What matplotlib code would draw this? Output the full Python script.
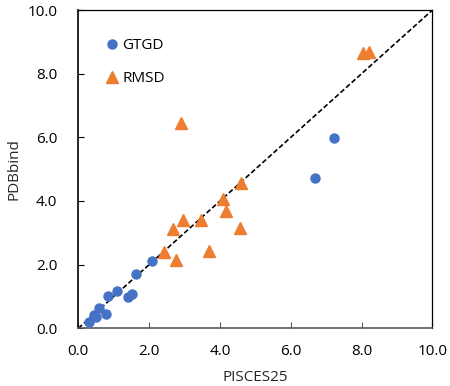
import matplotlib
matplotlib.use("Agg")
import matplotlib.pyplot as plt
from matplotlib.ticker import FormatStrFormatter

# GTGD series
gtgd_x = [0.30, 0.44, 0.50, 0.59, 0.78, 0.85, 1.10, 1.41, 1.53, 1.62, 2.09, 6.69, 7.22]
gtgd_y = [0.19, 0.42, 0.36, 0.63, 0.45, 1.02, 1.18, 0.98, 1.08, 1.72, 2.11, 4.71, 5.98]

# RMSD series
rmsd_x = [2.42, 2.66, 2.75, 2.90, 2.96, 3.47, 3.70, 4.09, 4.17, 4.57, 4.59, 8.05, 8.20]
rmsd_y = [2.39, 3.12, 2.15, 6.44, 3.40, 3.40, 2.44, 4.07, 3.70, 3.16, 4.55, 8.64, 8.69]

ticks = [0, 2, 4, 6, 8, 10]

plt.rcParams['font.family'] = ['Open Sans', 'DejaVu Sans']

fig = plt.figure(figsize=(4.5, 3.86), dpi=100)
ax = fig.add_axes([0.174, 0.1495, 0.787, 0.8245])

ax.plot([0, 10], [0, 10], color="black", linestyle=(0, (3, 1.5)), linewidth=1.2, zorder=1)
ax.plot(gtgd_x, gtgd_y, linestyle="none", marker="o", markersize=6.5,
        color="#4472C4", label="GTGD", zorder=3)
ax.plot(rmsd_x, rmsd_y, linestyle="none", marker="^", markersize=8,
        color="#ED7D31", label="RMSD", zorder=2)

ax.set_xlim(0, 10)
ax.set_ylim(0, 10)
ax.set_xticks(ticks)
ax.set_yticks(ticks)
ax.xaxis.set_major_formatter(FormatStrFormatter("%.1f"))
ax.yaxis.set_major_formatter(FormatStrFormatter("%.1f"))
ax.tick_params(direction="in", length=4, labelsize=11, labelcolor="black")
ax.tick_params(axis="x", pad=11, color="#595959")
ax.tick_params(axis="y", pad=15, color="black")
ax.spines["left"].set_color("black")
ax.spines["left"].set_linewidth(1.2)
ax.spines["bottom"].set_color("#595959")
ax.spines["bottom"].set_linewidth(1.2)
ax.spines["top"].set_color("black")
ax.spines["top"].set_linewidth(0.9)
ax.spines["right"].set_color("black")
ax.spines["right"].set_linewidth(0.9)

ax.set_xlabel("PISCES25", fontsize=11, color="#262626", labelpad=8)
ax.set_ylabel("PDBbind", fontsize=11, color="#262626", labelpad=4)

ax.legend(loc="upper left", bbox_to_anchor=(0.03, 0.955), frameon=False,
          fontsize=11, handletextpad=0.1, labelspacing=1.2, handlelength=1.2)

fig.savefig("out.png", dpi=100)
